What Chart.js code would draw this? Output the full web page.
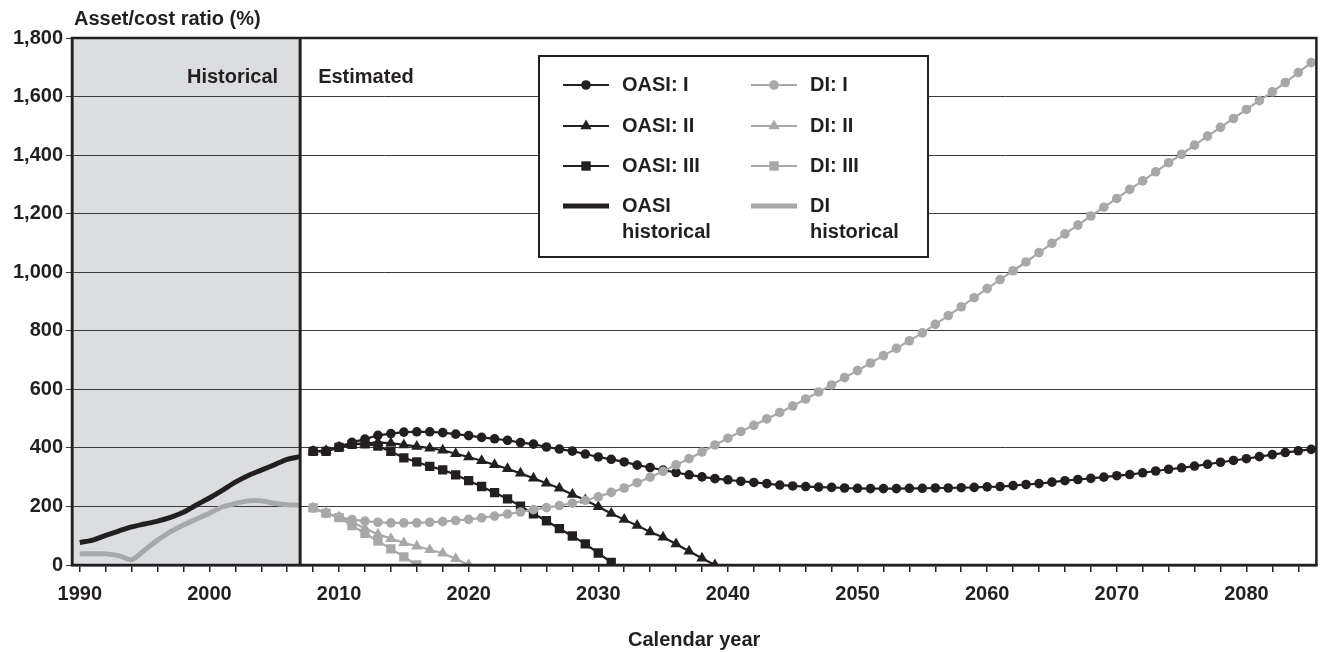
<!DOCTYPE html>
<html><head><meta charset="utf-8">
<script src="https://cdn.jsdelivr.net/npm/chart.js@4/dist/chart.umd.min.js"></script>
<style>html,body{margin:0;padding:0;background:#fff;} canvas{display:block;}</style>
</head><body>
<canvas id="c" width="1323" height="652"></canvas>
<script>
// ---------- data ----------
const histYears = [1990,1991,1992,1993,1994,1995,1996,1997,1998,1999,2000,2001,2002,2003,2004,2005,2006,2007];
const oasiHist  = [77,85,101,116,130,140,150,163,180,205,229,255,283,306,324,342,361,370];
const diHist    = [38,38,38,32,18,51,85,114,137,157,177,198,210,219,219,211,206,205];

const estYears = [2008,2009,2010,2011,2012,2013,2014,2015,2016,2017,2018,2019,2020,2021,2022,2023,2024,2025,2026,2027,
  2028,2029,2030,2031,2032,2033,2034,2035,2036,2037,2038,2039,2040,2041,2042,2043,2044,2045,2046,2047,
  2048,2049,2050,2051,2052,2053,2054,2055,2056,2057,2058,2059,2060,2061,2062,2063,2064,2065,2066,2067,
  2068,2069,2070,2071,2072,2073,2074,2075,2076,2077,2078,2079,2080,2081,2082,2083,2084,2085];

const oasiI = [390,390,404,419,430,443,449,454,455,455,452,447,442,436,431,426,418,413,403,396,
  389,379,369,361,352,341,333,324,316,308,301,295,291,286,282,278,273,270,268,266,
  265,263,262,261,261,261,262,262,263,263,264,265,267,268,271,275,278,283,288,292,
  296,300,305,309,315,321,327,332,338,344,351,357,363,370,377,384,390,395];
const oasiII = [388,390,402,412,416,418,416,410,405,399,392,380,369,356,342,329,313,296,279,262,
  241,222,199,176,155,135,113,95,72,47,23,0];
const oasiIII = [388,388,402,412,414,406,388,366,352,337,325,308,288,268,247,226,201,175,151,124,
  99,72,41,9];
const diI = [195,176,164,155,150,146,144,144,144,146,148,152,156,161,167,174,181,189,196,203,
  211,221,233,248,263,281,300,320,342,363,386,410,433,456,477,499,521,543,567,591,
  615,640,664,690,715,740,766,793,822,852,882,913,944,975,1005,1035,1067,1099,1131,1161,
  1192,1222,1252,1283,1312,1343,1374,1403,1434,1465,1495,1525,1556,1586,1616,1648,1682,1716];
const diII = [195,178,163,148,125,105,90,76,64,52,40,21,0];
const diIII = [195,177,162,135,108,82,55,28,0];

const yMin = 0, yMax = 1800, yStep = 200;
const xMin = 1989.4, xMax = 2085.4;
const xLabelEvery = 10, xTickEvery = 2;
const lastHistYear = 2007;

// ---------- style ----------
const FAMILY = '"Liberation Sans", Arial, Helvetica, sans-serif';
const FONT = 'bold 20px ' + FAMILY;
const BLACK = '#231f20', GRAY = '#a7a8aa', SHADE = '#dcdde0';

function pts(years, vals){ return vals.map((v,i)=>({x:years[i], y:v})); }
function series(label, years, vals, color, style, r, w){
  return {label, data: pts(years, vals), borderColor: color, backgroundColor: color,
    pointBackgroundColor: color, pointBorderColor: color, pointStyle: style || 'circle',
    pointRadius: r, pointBorderWidth: 0, pointHoverRadius: r, borderWidth: w, tension: 0, fill: false};
}

const legendItems = [
  {lines:['OASI: I'], color:BLACK, style:'circle', col:0, row:0},
  {lines:['OASI: II'], color:BLACK, style:'triangle', col:0, row:1},
  {lines:['OASI: III'], color:BLACK, style:'rect', col:0, row:2},
  {lines:['OASI','historical'], color:BLACK, style:null, col:0, row:3},
  {lines:['DI: I'], color:GRAY, style:'circle', col:1, row:0},
  {lines:['DI: II'], color:GRAY, style:'triangle', col:1, row:1},
  {lines:['DI: III'], color:GRAY, style:'rect', col:1, row:2},
  {lines:['DI','historical'], color:GRAY, style:null, col:1, row:3}
];

function marker(ctx, style, x, y, color){
  ctx.save(); ctx.fillStyle = color; ctx.beginPath();
  if (style === 'circle') { ctx.arc(x, y, 4.8, 0, Math.PI*2); }
  else if (style === 'triangle') { const r=6.5; ctx.moveTo(x, y-r); ctx.lineTo(x+r*0.866, y+r/2); ctx.lineTo(x-r*0.866, y+r/2); ctx.closePath(); }
  else if (style === 'rect') { const s=4.7; ctx.rect(x-s, y-s, 2*s, 2*s); }
  ctx.fill(); ctx.restore();
}

const decor = {
  id: 'decor',
  beforeDraw(chart){
    const {ctx, chartArea:a, scales:{x}} = chart;
    const xh = x.getPixelForValue(lastHistYear);
    ctx.save(); ctx.fillStyle = SHADE; ctx.fillRect(a.left, a.top, xh - a.left, a.bottom - a.top); ctx.restore();
  },
  afterDraw(chart){
    const {ctx, chartArea:a, scales:{x}} = chart;
    const xh = x.getPixelForValue(lastHistYear);
    ctx.save();
    ctx.strokeStyle = BLACK;
    ctx.lineWidth = 3;
    ctx.beginPath(); ctx.moveTo(xh, a.top); ctx.lineTo(xh, a.bottom); ctx.stroke();
    ctx.lineWidth = 2.5;
    ctx.strokeRect(a.left, a.top, a.right - a.left, a.bottom - a.top);

    ctx.fillStyle = BLACK; ctx.font = FONT; ctx.textBaseline = 'middle';
    ctx.textAlign = 'right'; ctx.fillText('Historical', xh - 22, 77);
    ctx.textAlign = 'left'; ctx.fillText('Estimated', xh + 18, 77);
    ctx.textAlign = 'left'; ctx.fillText('Asset/cost ratio (%)', 74, 19);
    ctx.textAlign = 'center'; ctx.fillText('Calendar year', (a.left + a.right)/2, 640);

    // legend
    const bx = 539, by = 56, bw = 389, bh = 201;
    ctx.fillStyle = '#fff'; ctx.fillRect(bx, by, bw, bh);
    ctx.lineWidth = 2; ctx.strokeStyle = BLACK; ctx.strokeRect(bx, by, bw, bh);
    const colX = [563, 751], rowY = [85, 126, 166, 206];
    legendItems.forEach(it => {
      const x0 = colX[it.col], y0 = rowY[it.row], x1 = x0 + 46, xm = x0 + 23;
      ctx.save(); ctx.strokeStyle = it.color;
      ctx.lineWidth = it.style ? 2.2 : 5;
      ctx.beginPath(); ctx.moveTo(x0, y0); ctx.lineTo(x1, y0); ctx.stroke(); ctx.restore();
      if (it.style) marker(ctx, it.style, xm, y0, it.color);
      ctx.fillStyle = BLACK; ctx.font = FONT; ctx.textAlign = 'left'; ctx.textBaseline = 'middle';
      it.lines.forEach((t, k) => ctx.fillText(t, x1 + 13, y0 + k*26));
    });
    ctx.restore();
  }
};

const tickYears = [];
for (let y = 1990; y <= 2084; y += xTickEvery) tickYears.push(y);

new Chart(document.getElementById('c'), {
  type: 'line',
  data: { datasets: [
    series('DI: III', estYears, diIII, GRAY, 'rect', 6.6, 2.2),
    series('DI: II', estYears, diII, GRAY, 'triangle', 6.5, 2.2),
    series('DI: I', estYears, diI, GRAY, 'circle', 4.8, 2.2),
    series('OASI: III', estYears, oasiIII, BLACK, 'rect', 6.6, 2.2),
    series('OASI: II', estYears, oasiII, BLACK, 'triangle', 6.5, 2.2),
    series('OASI: I', estYears, oasiI, BLACK, 'circle', 4.8, 2.2),
    Object.assign(series('DI historical', histYears, diHist, GRAY, 'circle', 0, 5), {tension: 0.3}),
    Object.assign(series('OASI historical', histYears, oasiHist, BLACK, 'circle', 0, 5), {tension: 0.3})
  ]},
  options: {
    responsive: false, animation: false, devicePixelRatio: 1,
    layout: { padding: {left: 0, right: 3, top: 38, bottom: 0} },
    plugins: { legend: {display: false}, tooltip: {enabled: false} },
    scales: {
      x: {
        type: 'linear', min: xMin, max: xMax,
        afterBuildTicks: s => { s.ticks = tickYears.map(v => ({value: v})); },
        afterFit: s => { s.height = 87; },
        ticks: { autoSkip: false, maxRotation: 0, padding: 10, color: BLACK,
          font: {family: FAMILY, size: 20, weight: 'bold'},
          callback: v => (v % xLabelEvery === 0 ? String(v) : '') },
        grid: { drawOnChartArea: false, drawTicks: true, tickLength: 7, color: BLACK, lineWidth: 1.5 },
        border: { display: true, color: BLACK, width: 2.5 }
      },
      y: {
        min: yMin, max: yMax,
        afterFit: s => { s.width = 72; },
        ticks: { stepSize: yStep, padding: 3, color: BLACK,
          font: {family: FAMILY, size: 20, weight: 'bold'},
          callback: v => v.toLocaleString('en-US') },
        grid: { color: '#3a3a3a', lineWidth: 1, tickLength: 6, drawTicks: true },
        border: { display: true, color: BLACK, width: 2.5 }
      }
    }
  },
  plugins: [decor]
});
</script>
</body></html>
